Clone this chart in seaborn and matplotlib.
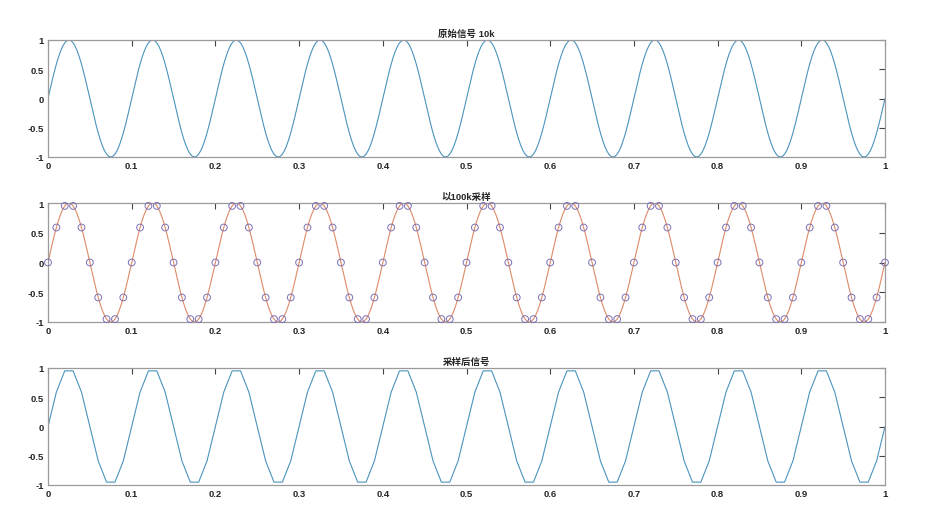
import numpy as np
import pandas as pd
import matplotlib
matplotlib.use("Agg")
import matplotlib.pyplot as plt
import seaborn as sns

sns.set_style("white")
plt.rcParams['font.family'] = ['Liberation Sans', 'Noto Sans CJK SC', 'DejaVu Sans']

# ---- data ----
titles = ["原始信号 10k", "以100k采样", "采样后信号"]
n_periods = 10
# one period of the continuous 10k signal, 40 points per period
period_cont = [0.0, 0.156, 0.309, 0.454, 0.588, 0.707, 0.809, 0.891, 0.951, 0.988,
               1.0, 0.988, 0.951, 0.891, 0.809, 0.707, 0.588, 0.454, 0.309, 0.156,
               0.0, -0.156, -0.309, -0.454, -0.588, -0.707, -0.809, -0.891, -0.951, -0.988,
               -1.0, -0.988, -0.951, -0.891, -0.809, -0.707, -0.588, -0.454, -0.309, -0.156]
# one period of the sampled signal (10 samples per period)
period_samp = [0.0, 0.588, 0.951, 0.951, 0.588, 0.0, -0.588, -0.951, -0.951, -0.588]
xticks = [0, 0.1, 0.2, 0.3, 0.4, 0.5, 0.6, 0.7, 0.8, 0.9, 1]
xtick_labels = ["0", "0.1", "0.2", "0.3", "0.4", "0.5", "0.6", "0.7", "0.8", "0.9", "1"]
yticks = [-1, -0.5, 0, 0.5, 1]
ytick_labels = ["-1", "-0.5", "0", "0.5", "1"]

y_cont = np.array(period_cont * n_periods + [0.0])
t_cont = np.linspace(0, 1, len(y_cont))
y_samp = np.array(period_samp * n_periods + [0.0])
t_samp = np.linspace(0, 1, len(y_samp))

df_cont = pd.DataFrame({"t": t_cont, "y": y_cont})
df_samp = pd.DataFrame({"t": t_samp, "y": y_samp})

blue = "#4a93bd"
orange = "#dc8a66"
purple = "#7d6fb5"

fig = plt.figure(figsize=(9.33, 5.06), dpi=100)
L, W = 48 / 933, (885 - 48) / 933
rows = [(41, 158), (204, 323), (369, 486)]
axes = []
for top, bot in rows:
    ax = fig.add_axes([L, 1 - bot / 506, W, (bot - top) / 506])
    axes.append(ax)

sns.lineplot(data=df_cont, x="t", y="y", ax=axes[0], color=blue, lw=0.8,
             estimator=None, sort=False)
sns.lineplot(data=df_cont, x="t", y="y", ax=axes[1], color=orange, lw=0.8,
             estimator=None, sort=False)
sns.scatterplot(data=df_samp, x="t", y="y", ax=axes[1], marker="o", s=24,
                facecolors="none", edgecolor=purple, linewidth=0.7, zorder=3,
                clip_on=False)
sns.lineplot(data=df_samp, x="t", y="y", ax=axes[2], color=blue, lw=0.8,
             estimator=None, sort=False)

for ax, title in zip(axes, titles):
    ax.set_xlim(0, 1)
    ax.set_ylim(-1, 1)
    ax.set_xlabel("")
    ax.set_ylabel("")
    ax.set_xticks(xticks)
    ax.set_xticklabels(xtick_labels)
    ax.set_yticks(yticks)
    ax.set_yticklabels(ytick_labels)
    ax.tick_params(direction="in", length=4, width=0.8, color="#444444",
                   labelsize=6.8, top=True, right=True, pad=3)
    for lab in ax.get_xticklabels() + ax.get_yticklabels():
        lab.set_fontweight("bold")
    for sp in ax.spines.values():
        sp.set_color("#9a9a9a")
        sp.set_linewidth(0.9)
    ax.set_title(title, fontsize=6.8, fontweight="bold", pad=3,
                 family=['Liberation Sans', 'Noto Sans CJK SC'])

fig.savefig("out.png", dpi=100)
